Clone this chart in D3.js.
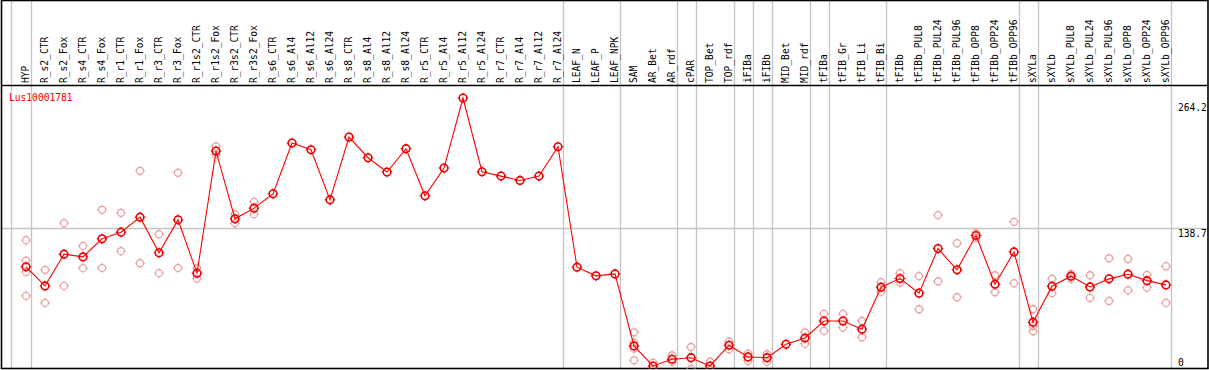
<!DOCTYPE html>
<html>
<head>
<meta charset="utf-8">
<script src="https://cdn.jsdelivr.net/npm/d3@7"></script>
<style>
  body { margin: 0; background: #fff; }
  svg { display: block; }
  text { font-family: "DejaVu Sans Mono", monospace; }
</style>
</head>
<body>
<div id="chart"></div>
<script>
// Kategori sampel
const categories = [
  "HYP", "R_s2_CTR", "R_s2_Fox", "R_s4_CTR", "R_s4_Fox", "R_r1_CTR", "R_r1_Fox",
  "R_r3_CTR", "R_r3_Fox", "R_r1s2_CTR", "R_r1s2_Fox", "R_r3s2_CTR", "R_r3s2_Fox",
  "R_s6_CTR", "R_s6_Al4", "R_s6_Al12", "R_s6_Al24", "R_s8_CTR", "R_s8_Al4",
  "R_s8_Al12", "R_s8_Al24", "R_r5_CTR", "R_r5_Al4", "R_r5_Al12", "R_r5_Al24",
  "R_r7_CTR", "R_r7_Al4", "R_r7_Al12", "R_r7_Al24", "LEAF_N", "LEAF_P", "LEAF_NPK",
  "SAM", "AR_Bet", "AR_rdf", "cPAR", "TOP_Bet", "TOP_rdf", "iFIBa", "iFIBb",
  "MID_Bet", "MID_rdf", "tFIBa", "tFIB_Gr", "tFIB_Li", "tFIB_Bi", "tFIBb",
  "tFIBb_PUL8", "tFIBb_PUL24", "tFIBb_PUL96", "tFIBb_OPP8", "tFIBb_OPP24", "tFIBb_OPP96",
  "sXYLa", "sXYLb", "sXYLb_PUL8", "sXYLb_PUL24", "sXYLb_PUL96", "sXYLb_OPP8",
  "sXYLb_OPP24", "sXYLb_OPP96"
];

// Nilai rata-rata (garis merah)
const means = [
  101.4, 83.0, 113.6, 111.0, 128.4, 134.8, 149.3, 114.9, 146.7, 95.3, 213.0, 147.7, 158.0,
  171.8, 220.8, 214.3, 166.0, 226.5, 206.6, 192.8, 215.3, 169.9, 196.6, 264.2, 193.1,
  188.9, 184.7, 188.9, 217.2, 101.1, 92.7, 94.6,
  25.1, 5.8, 12.3, 13.8, 5.8, 25.8, 14.5, 13.8, 26.7, 32.8, 49.2, 49.2, 41.2, 81.8, 90.1,
  76.0, 119.0, 98.5, 131.6, 84.7, 115.8,
  48.0, 82.7, 92.4, 82.0, 89.8, 94.3, 88.1, 84.0
];

// Nilai replikasi (lingkaran merah muda)
const replicates = [
  [127.1, 107.4, 96.5, 73.4], [98.5, 66.6], [143.5, 83.0], [121.6, 100.1], [156.4, 100.4],
  [153.5, 116.5], [194.0, 104.9], [132.9, 95.3], [192.1, 100.4], [100.1, 90.1],
  [217.5, 209.8], [152.2, 143.5], [164.1, 152.2],
  [], [], [], [], [], [], [], [], [], [], [], [], [], [], [], [], [], [], [],
  [38.3, 28.3, 22.5, 11.3], [9.0, 2.6], [16.1, 9.7], [24.1, 2.9], [9.9, 1.7], [29.2, 21.9],
  [17.7, 10.9], [17.1, 9.7], [], [38.3, 27.3], [56.0, 39.6], [56.0, 42.8], [49.2, 33.5],
  [86.6, 77.2], [95.3, 86.2],
  [92.4, 60.5], [151.3, 87.5], [124.2, 72.1], [133.9, 129.3], [93.3, 76.9], [144.8, 85.6],
  [60.5, 44.4, 39.3], [89.8, 76.0], [94.6, 89.8], [93.3, 71.4], [109.7, 68.5],
  [109.1, 78.9], [93.6, 81.4], [102.0, 66.6]
];

// Batas kelompok (garis vertikal setelah kategori ini)
const groupEnds = [
  "HYP", "R_r7_Al24", "LEAF_NPK", "AR_rdf", "cPAR", "TOP_rdf", "iFIBa", "iFIBb",
  "MID_rdf", "tFIBa", "tFIB_Bi", "tFIBb_OPP96", "sXYLa", "sXYLb_OPP96"
];

const yTicks = [264.2, 138.7, 0];
const geneName = "Lus10001781";

const width = 1209;
const height = 370;
const headerBottom = 85.5;
const plotBottom = 368.5;

const svg = d3
  .select("#chart")
  .append("svg")
  .attr("width", width)
  .attr("height", height);

// Scales
const x = d3.scalePoint().domain(categories).range([26, 1166]);
const step = x.step();
const y = d3.scaleLinear().domain([0, 264.2]).range([372, 98]);

svg
  .append("defs")
  .append("clipPath")
  .attr("id", "plot-clip")
  .append("rect")
  .attr("x", 1)
  .attr("y", headerBottom)
  .attr("width", 1207)
  .attr("height", plotBottom - headerBottom);

// Garis vertikal kelompok
const gridX = [x(categories[0]) - step + 4.5 - 1].concat(
  groupEnds.map((c) => x(c) + 4.5)
);
svg
  .selectAll("line.vgrid")
  .data(gridX)
  .enter()
  .append("line")
  .attr("class", "vgrid")
  .attr("x1", (d) => Math.round(d) + 0.5)
  .attr("x2", (d) => Math.round(d) + 0.5)
  .attr("y1", 0)
  .attr("y2", plotBottom)
  .attr("stroke", "#c4c4c4")
  .attr("stroke-width", 1.3);

// Garis horizontal 138.7
svg
  .append("line")
  .attr("x1", 1)
  .attr("x2", 1208)
  .attr("y1", Math.round(y(138.7)) + 0.5)
  .attr("y2", Math.round(y(138.7)) + 0.5)
  .attr("stroke", "#c4c4c4")
  .attr("stroke-width", 1.3);

// Label kategori (diputar)
svg
  .selectAll("text.cat")
  .data(categories)
  .enter()
  .append("text")
  .attr("class", "cat")
  .attr("transform", (d) => `translate(${x(d) + 3}, 83) rotate(-90)`)
  .style("font-size", "9.6px")
  .attr("fill", "#000")
  .text((d) => d);

// Bingkai
svg
  .append("line")
  .attr("x1", 1)
  .attr("x2", 1208)
  .attr("y1", headerBottom)
  .attr("y2", headerBottom)
  .attr("stroke", "#000")
  .attr("stroke-width", 1.5);

svg
  .append("rect")
  .attr("x", 1.5)
  .attr("y", 0.5)
  .attr("width", 1206.5)
  .attr("height", plotBottom - 0.5)
  .attr("fill", "none")
  .attr("stroke", "#000")
  .attr("stroke-width", 1.6);

// Label sumbu kanan
svg
  .selectAll("text.ytick")
  .data(yTicks)
  .enter()
  .append("text")
  .attr("class", "ytick")
  .attr("x", 1178)
  .attr("y", (d, i) => (i === 0 ? 111 : i === 1 ? 237 : 366))
  .style("font-size", "9.6px")
  .attr("fill", "#000")
  .text((d) => d);

// Nama gen
svg
  .append("text")
  .attr("x", 9)
  .attr("y", 100.5)
  .style("font-size", "9.6px")
  .attr("fill", "#ff0000")
  .text(geneName);

const plot = svg.append("g").attr("clip-path", "url(#plot-clip)");

// Simbol lingkaran dengan tanda kecil
function marker(g, cx, cy, r, color, sw) {
  g.append("circle")
    .attr("cx", cx)
    .attr("cy", cy)
    .attr("r", r)
    .attr("fill", "none")
    .attr("stroke", color)
    .attr("stroke-width", sw);
  [[0, -1], [0, 1], [-1, 0], [1, 0]].forEach(([dx, dy]) => {
    g.append("line")
      .attr("x1", cx + dx * (r - 0.5))
      .attr("y1", cy + dy * (r - 0.5))
      .attr("x2", cx + dx * (r + 1.5))
      .attr("y2", cy + dy * (r + 1.5))
      .attr("stroke", color)
      .attr("stroke-width", 1);
  });
}

// Replikasi
const repData = [];
categories.forEach((c, i) => {
  replicates[i].forEach((v) => repData.push({ c, v }));
});
const repG = plot.append("g");
repData.forEach((d) => marker(repG, x(d.c), y(d.v), 3.5, "#eea0a0", 1.3));

// Garis rata-rata
const line = d3
  .line()
  .x((d, i) => x(categories[i]))
  .y((d) => y(d));

plot
  .append("path")
  .datum(means)
  .attr("d", line)
  .attr("fill", "none")
  .attr("stroke", "#ff0000")
  .attr("stroke-width", 1.1);

const meanG = plot.append("g");
means.forEach((v, i) => marker(meanG, x(categories[i]), y(v), 3.8, "#ee0000", 1.6));
</script>
</body>
</html>
